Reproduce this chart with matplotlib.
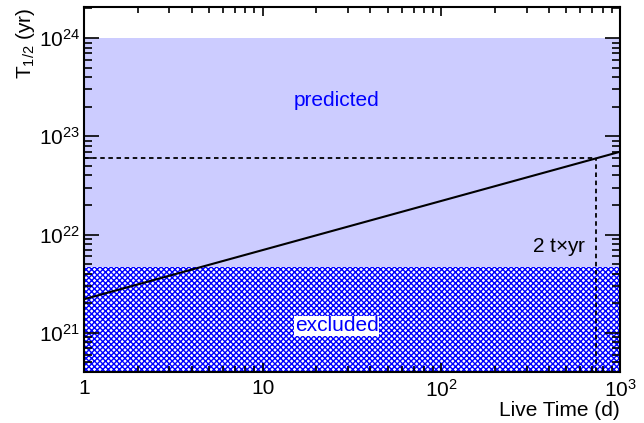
import numpy as np
import matplotlib
matplotlib.use("Agg")
import matplotlib.pyplot as plt
from matplotlib.ticker import FixedLocator, FixedFormatter, LogLocator, NullFormatter

plt.rcParams['font.family'] = ['Liberation Sans', 'DejaVu Sans']
plt.rcParams['mathtext.fontset'] = 'custom'
plt.rcParams['mathtext.rm'] = 'Liberation Sans'
plt.rcParams['mathtext.it'] = 'Liberation Sans:italic'
plt.rcParams['hatch.linewidth'] = 1.0

# data
live_time = [1, 1000]              # days
half_life = [2.2e21, 6.96e22]      # yr, sensitivity curve
excluded_limit = 4.7e21            # yr
predicted_upper = 1e24             # yr
exposure_time = 730                # days (2 t x yr)
exposure_t12 = 6.0e22              # yr

x_ticks = [1, 10, 100, 1000]
x_labels = ['1', '10', r'$10^{2}$', r'$10^{3}$']
y_ticks = [1e21, 1e22, 1e23, 1e24]
y_labels = [r'$10^{21}$', r'$10^{22}$', r'$10^{23}$', r'$10^{24}$']

xmin, xmax = 1, 1000
ymin, ymax = 4.0e20, 2.07e24
fs = 15

fig = plt.figure(figsize=(6.44, 4.23), dpi=100)
ax = fig.add_axes([0.1304, 0.1206, 0.8323, 0.8629])
ax.set_xscale('log')
ax.set_yscale('log')
ax.set_xlim(xmin, xmax)
ax.set_ylim(ymin, ymax)

# predicted band
ax.fill_between([xmin, xmax], excluded_limit, predicted_upper,
                facecolor='#ccccff', edgecolor='none', zorder=1)
# excluded band (hatched)
ax.fill_between([xmin, xmax], ymin, excluded_limit,
                facecolor='white', edgecolor='#0000ff', hatch='xxxxxx',
                linewidth=0, zorder=1)

ax.plot(live_time, half_life, color='black', lw=1.5, zorder=3)
ax.plot([xmin, exposure_time], [exposure_t12, exposure_t12], color='black',
        lw=1.3, dashes=(2.5, 2), zorder=3)
ax.plot([exposure_time, exposure_time], [ymin, exposure_t12], color='black',
        lw=1.3, dashes=(2.5, 2), zorder=3)

ax.text(26, 2.3e23, 'predicted', color='#0000ff', fontsize=fs,
        ha='center', va='center', zorder=4)
ax.text(26, 1.18e21, 'excluded', color='#0000ff', fontsize=fs,
        ha='center', va='center', zorder=4,
        bbox=dict(facecolor='white', edgecolor='none', pad=0.5))
ax.text(650, 7.4e21, r'2 t$\times$yr', color='black', fontsize=fs,
        ha='right', va='center', zorder=4)

ax.xaxis.set_major_locator(FixedLocator(x_ticks))
ax.xaxis.set_major_formatter(FixedFormatter(x_labels))
ax.xaxis.set_minor_locator(LogLocator(base=10, subs=np.arange(2, 10)))
ax.xaxis.set_minor_formatter(NullFormatter())
ax.yaxis.set_major_locator(FixedLocator(y_ticks))
ax.yaxis.set_major_formatter(FixedFormatter(y_labels))
ax.yaxis.set_minor_locator(LogLocator(base=10, subs=np.arange(2, 10)))
ax.yaxis.set_minor_formatter(NullFormatter())

ax.tick_params(axis='both', which='both', direction='in', top=True, right=True,
               labelsize=fs, width=1.2, zorder=5)
ax.tick_params(axis='x', which='major', length=6.5, pad=5)
ax.tick_params(axis='x', which='minor', length=4)
ax.tick_params(axis='y', which='major', length=11, pad=3)
ax.tick_params(axis='y', which='minor', length=5.5)
for sp in ax.spines.values():
    sp.set_linewidth(1.5)
    sp.set_zorder(6)

ax.set_xlabel('Live Time (d)', fontsize=fs, loc='right', labelpad=0)
ax.set_ylabel(r'T$_{1/2}$ (yr)', fontsize=fs, loc='top', labelpad=1)

fig.savefig('out.png', dpi=100)
